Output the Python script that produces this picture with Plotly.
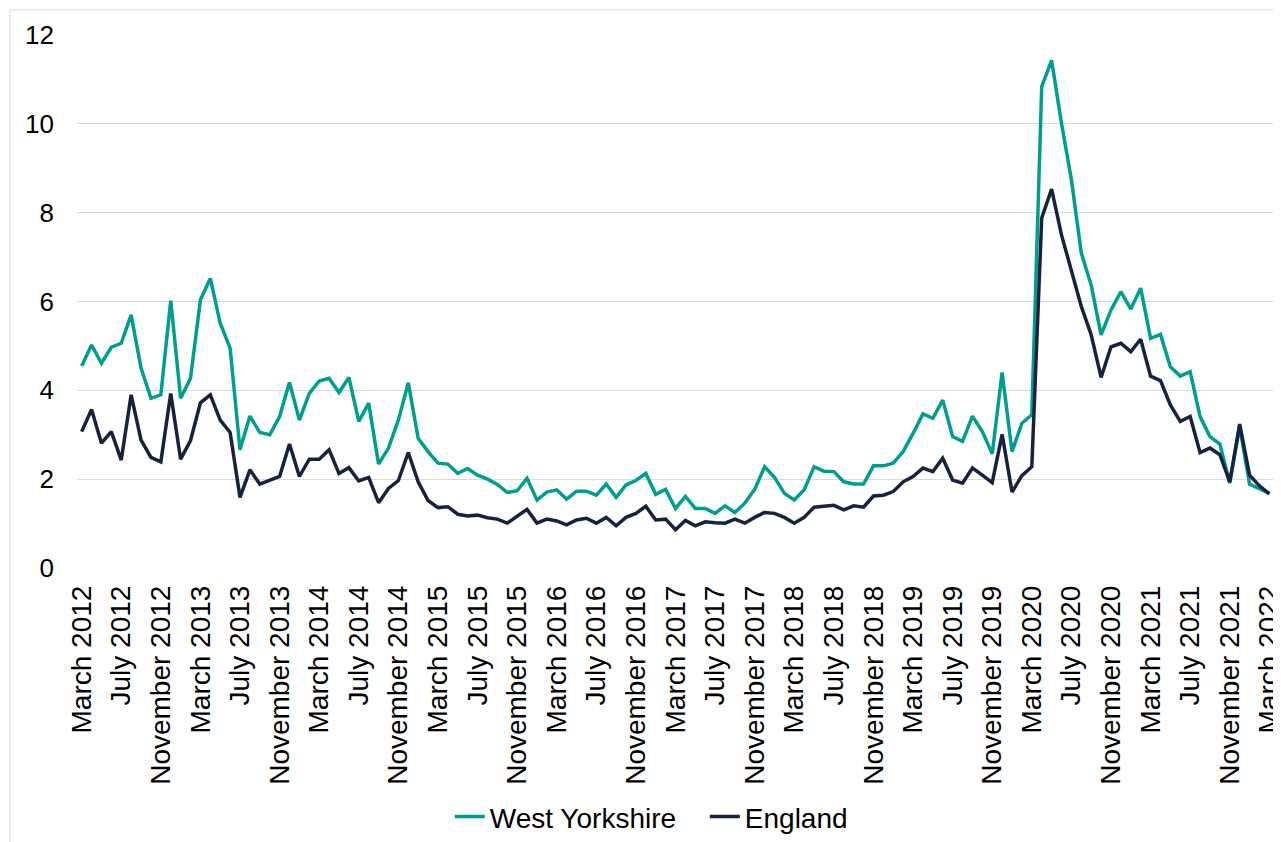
import pandas as pd
import plotly.graph_objects as go

months = list(pd.date_range("2012-03-01", periods=121, freq="MS").strftime("%B %Y"))

west_yorkshire = [
    4.55, 5.02, 4.61, 4.97, 5.06, 5.70, 4.50, 3.82, 3.90, 6.02,
    3.82, 4.27, 6.04, 6.52, 5.51, 4.95, 2.66, 3.42, 3.05, 3.00,
    3.41, 4.18, 3.33, 3.93, 4.21, 4.27, 3.95, 4.29, 3.30, 3.71,
    2.34, 2.70, 3.33, 4.17, 2.92, 2.62, 2.36, 2.34, 2.13, 2.24,
    2.09, 2.00, 1.88, 1.70, 1.74, 2.02, 1.53, 1.71, 1.76, 1.55,
    1.73, 1.73, 1.64, 1.89, 1.59, 1.87, 1.97, 2.13, 1.66, 1.77,
    1.34, 1.61, 1.34, 1.34, 1.23, 1.40, 1.25, 1.46, 1.77, 2.28,
    2.04, 1.68, 1.53, 1.76, 2.28, 2.18, 2.17, 1.94, 1.89, 1.89,
    2.30, 2.30, 2.36, 2.62, 3.03, 3.47, 3.37, 3.78, 2.96, 2.85,
    3.42, 3.07, 2.57, 4.40, 2.62, 3.26, 3.45, 10.84, 11.43, 10.01,
    8.74, 7.09, 6.37, 5.25, 5.81, 6.22, 5.83, 6.30, 5.17, 5.26,
    4.53, 4.32, 4.42, 3.41, 2.96, 2.79, 1.91, 3.18, 1.89, 1.79,
    1.68,
]

england = [
    3.07, 3.57, 2.81, 3.07, 2.43, 3.90, 2.88, 2.49, 2.39, 3.93,
    2.45, 2.87, 3.72, 3.90, 3.33, 3.05, 1.59, 2.21, 1.89, 1.97,
    2.06, 2.79, 2.06, 2.45, 2.45, 2.66, 2.13, 2.26, 1.96, 2.04,
    1.47, 1.79, 1.97, 2.60, 1.94, 1.52, 1.36, 1.38, 1.21, 1.17,
    1.19, 1.13, 1.10, 1.01, 1.16, 1.32, 1.01, 1.10, 1.06, 0.97,
    1.08, 1.12, 1.01, 1.14, 0.95, 1.14, 1.23, 1.39, 1.08, 1.10,
    0.86, 1.07, 0.95, 1.04, 1.02, 1.01, 1.10, 1.01, 1.14, 1.25,
    1.23, 1.14, 1.01, 1.14, 1.37, 1.40, 1.41, 1.31, 1.40, 1.37,
    1.62, 1.64, 1.72, 1.94, 2.06, 2.25, 2.17, 2.47, 1.98, 1.91,
    2.25, 2.09, 1.92, 3.01, 1.71, 2.08, 2.28, 7.88, 8.53, 7.50,
    6.71, 5.89, 5.25, 4.29, 4.98, 5.06, 4.87, 5.15, 4.32, 4.22,
    3.67, 3.30, 3.41, 2.60, 2.70, 2.55, 1.94, 3.24, 2.09, 1.85,
    1.67,
]

teal = "#009E8F"
navy = "#17223F"
font = "Liberation Sans, Arial, sans-serif"

fig = go.Figure()
fig.add_trace(go.Scatter(x=months, y=west_yorkshire, name="West Yorkshire", mode="lines",
                         line=dict(color=teal, width=3.5)))
fig.add_trace(go.Scatter(x=months, y=england, name="England", mode="lines",
                         line=dict(color=navy, width=3.5)))

# page has an 8px body margin, so the figure is 8px smaller than the window
fig.update_layout(
    width=1273, height=834, autosize=False,
    margin=dict(l=69, r=7, t=27, b=274, autoexpand=False),
    paper_bgcolor="white", plot_bgcolor="white",
    font=dict(family=font, color="black", size=28),
    showlegend=True,
    legend=dict(orientation="h", x=0.5245, xanchor="center", y=-0.467, yanchor="middle",
                font=dict(size=28), traceorder="normal", itemwidth=30, entrywidth=210),
    shapes=[dict(type="rect", xref="paper", yref="paper",
                 x0=-0.056, x1=1.02, y0=-0.53, y1=1.047,
                 line=dict(color="#D9D9D9", width=1), layer="below")],
)

fig.update_xaxes(type="category", tickmode="array", tickvals=months[::4], ticktext=months[::4],
                 tickangle=-90, range=[-0.47, 120.47], showgrid=False, showline=False,
                 ticks="", ticklabelstandoff=11, tickfont=dict(size=28), automargin=False)
fig.update_yaxes(range=[0, 12], dtick=2, showgrid=True, gridcolor="#D9D9D9", gridwidth=1.3,
                 zeroline=False, showline=False, ticks="", ticklabelstandoff=22,
                 tickfont=dict(size=26), automargin=False)

fig.write_html("out.html")
